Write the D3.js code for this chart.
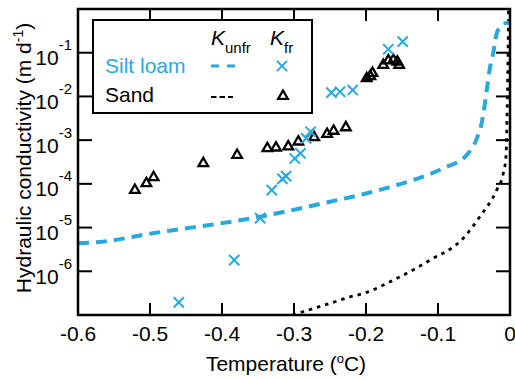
<!DOCTYPE html>
<html>
<head>
<meta charset="utf-8">
<script src="https://cdn.jsdelivr.net/npm/d3@7"></script>
<style>
body { margin: 0; background: #fff; }
svg { display: block; font-family: "Liberation Sans", Arial, sans-serif; }
</style>
</head>
<body>
<div id="chart"></div>
<script>
// frozen conductivity, silt loam (x markers)
var siltFrT = [-0.46, -0.383, -0.347, -0.331, -0.316, -0.311, -0.299, -0.291, -0.283, -0.277, -0.248, -0.236, -0.2185, -0.169, -0.149];
var siltFrK = [1.95e-7, 1.8e-6, 1.65e-5, 7.2e-5, 1.3e-4, 1.5e-4, 3.8e-4, 5.0e-4, 1.1e-3, 1.56e-3, 1.22e-2, 1.28e-2, 1.4e-2, 0.12, 0.179];

// frozen conductivity, sand (triangles)
var sandFrT = [-0.521, -0.505, -0.495, -0.426, -0.379, -0.337, -0.325, -0.308, -0.294, -0.272, -0.254, -0.245, -0.228, -0.199, -0.194, -0.191, -0.176, -0.169, -0.162, -0.1565, -0.154];
var sandFrK = [7.2e-5, 1.03e-4, 1.41e-4, 2.95e-4, 4.57e-4, 6.5e-4, 6.7e-4, 7.1e-4, 9.2e-4, 1.16e-3, 1.38e-3, 1.62e-3, 1.95e-3, 2.6e-2, 2.9e-2, 3.4e-2, 5.2e-2, 6.6e-2, 6.8e-2, 6.2e-2, 5.2e-2];

// unfrozen conductivity curves
var siltUnfrT = [-0.6, -0.57, -0.496, -0.347, -0.25, -0.204, -0.157, -0.111, -0.093, -0.06, -0.046, -0.039, -0.032, -0.028, -0.023, -0.019, -0.014, -0.005, 0];
var siltUnfrK = [4.4e-6, 4.7e-6, 7.4e-6, 1.77e-5, 3.9e-5, 5.8e-5, 9.4e-5, 1.68e-4, 2.27e-4, 4.6e-4, 1.1e-3, 2.6e-3, 1.5e-2, 4.4e-2, 0.105, 0.254, 0.39, 0.48, 0.49];

var sandUnfrT = [-0.302, -0.25, -0.222, -0.204, -0.157, -0.111, -0.065, -0.042, -0.0185, -0.0093, -0.0056, -0.0042, -0.0028, -0.002];
var sandUnfrK = [1e-7, 1.85e-7, 2.6e-7, 3.1e-7, 6.9e-7, 1.8e-6, 5.7e-6, 1.77e-5, 7.2e-5, 1.74e-4, 4.2e-4, 2.9e-3, 6.8e-2, 1.0];

var xTicks = [-0.6, -0.5, -0.4, -0.3, -0.2, -0.1, 0];
var xTickLabels = ["-0.6", "-0.5", "-0.4", "-0.3", "-0.2", "-0.1", "0"];
var yExps = [-1, -2, -3, -4, -5, -6];

var blue = "#29a8df";
var plotL = 78, plotR = 510, plotT = 9, plotB = 315;
var tickLen = 12;

var xScale = d3.scaleLinear().domain([-0.6, 0]).range([plotL, plotR]);
var yScale = d3.scaleLog().domain([1e-7, 1]).range([plotB, plotT]);

var svg = d3.select("div#chart")
  .append("svg")
  .attr("width", 515)
  .attr("height", 379);

svg.append("clipPath").attr("id", "plotclip")
  .append("rect")
  .attr("x", plotL).attr("y", plotT)
  .attr("width", plotR - plotL).attr("height", plotB - plotT);

var zip = (a, b) => a.map((v, i) => [v, b[i]]);

var line = d3.line()
  .x(d => xScale(d[0]))
  .y(d => yScale(d[1]))
  .curve(d3.curveMonotoneX);

var plot = svg.append("g").attr("clip-path", "url(#plotclip)");

// unfrozen curves
plot.append("path")
  .datum(zip(sandUnfrT, sandUnfrK))
  .attr("d", line)
  .attr("fill", "none")
  .attr("stroke", "#000")
  .attr("stroke-width", 2.8)
  .attr("stroke-dasharray", "3.5,5");

plot.append("path")
  .datum(zip(siltUnfrT, siltUnfrK))
  .attr("d", line)
  .attr("fill", "none")
  .attr("stroke", blue)
  .attr("stroke-width", 4)
  .attr("stroke-dasharray", "11,7");

// markers
var tri = d3.symbol().type(d3.symbolTriangle).size(40);
plot.selectAll(".tri")
  .data(zip(sandFrT, sandFrK))
  .enter()
  .append("path")
  .attr("class", "tri")
  .attr("d", tri)
  .attr("transform", d => "translate(" + xScale(d[0]) + "," + yScale(d[1]) + ")")
  .attr("fill", "none")
  .attr("stroke", "#000")
  .attr("stroke-width", 2.3);

var cross = d3.symbol().type(d3.symbolX).size(70);
plot.selectAll(".cross")
  .data(zip(siltFrT, siltFrK))
  .enter()
  .append("path")
  .attr("class", "cross")
  .attr("d", cross)
  .attr("transform", d => "translate(" + xScale(d[0]) + "," + yScale(d[1]) + ")")
  .attr("fill", "none")
  .attr("stroke", blue)
  .attr("stroke-width", 2);

// ticks on all four sides, pointing inward
var ticks = svg.append("g").attr("stroke", "#000").attr("stroke-width", 2);
xTicks.slice(1, -1).forEach(function(t) {
  ticks.append("line").attr("x1", xScale(t)).attr("x2", xScale(t)).attr("y1", plotB).attr("y2", plotB - tickLen);
  ticks.append("line").attr("x1", xScale(t)).attr("x2", xScale(t)).attr("y1", plotT).attr("y2", plotT + tickLen);
});
yExps.forEach(function(e) {
  var y = yScale(Math.pow(10, e));
  ticks.append("line").attr("x1", plotL).attr("x2", plotL + tickLen + 2).attr("y1", y).attr("y2", y);
  ticks.append("line").attr("x1", plotR).attr("x2", plotR - tickLen - 2).attr("y1", y).attr("y2", y);
});

// frame
svg.append("rect")
  .attr("x", plotL).attr("y", plotT)
  .attr("width", plotR - plotL).attr("height", plotB - plotT)
  .attr("fill", "none")
  .attr("stroke", "#000")
  .attr("stroke-width", 2.5);

// tick labels
svg.selectAll(".xlab")
  .data(xTicks)
  .enter()
  .append("text")
  .attr("class", "xlab")
  .attr("x", d => xScale(d))
  .attr("y", 341)
  .attr("text-anchor", "middle")
  .attr("font-size", 21)
  .text((d, i) => xTickLabels[i]);

yExps.forEach(function(e) {
  var t = svg.append("text")
    .attr("x", 72)
    .attr("y", yScale(Math.pow(10, e)) + 12.5)
    .attr("text-anchor", "end")
    .attr("font-size", 21);
  t.append("tspan").text("10");
  t.append("tspan").attr("font-size", 15).attr("dy", -15).text(String(e));
});

// axis titles
var xt = svg.append("text")
  .attr("x", 286).attr("y", 371)
  .attr("text-anchor", "middle")
  .attr("font-size", 21);
xt.append("tspan").text("Temperature (");
xt.append("tspan").attr("font-size", 13).attr("dy", -8).text("o");
xt.append("tspan").attr("dy", 8).text("C)");

var yt = svg.append("text")
  .attr("transform", "translate(31,158) rotate(-90)")
  .attr("text-anchor", "middle")
  .attr("font-size", 21);
yt.append("tspan").text("Hydraulic conductivity (m d");
yt.append("tspan").attr("font-size", 14).attr("dy", -8).text("-1");
yt.append("tspan").attr("dy", 8).text(")");

// legend
var lg = svg.append("g");
lg.append("rect")
  .attr("x", 93).attr("y", 20)
  .attr("width", 219).attr("height", 93)
  .attr("fill", "#fff")
  .attr("stroke", "#000")
  .attr("stroke-width", 2);

var h1 = lg.append("text").attr("x", 211).attr("y", 45).attr("font-size", 21);
h1.append("tspan").attr("font-style", "italic").text("K");
h1.append("tspan").attr("font-size", 15).attr("dy", 8).text("unfr");
var h2 = lg.append("text").attr("x", 270).attr("y", 45).attr("font-size", 21);
h2.append("tspan").attr("font-style", "italic").text("K");
h2.append("tspan").attr("font-size", 15).attr("dy", 8).text("fr");

lg.append("text").attr("x", 105).attr("y", 73).attr("font-size", 21).attr("fill", blue).text("Silt loam");
lg.append("text").attr("x", 105).attr("y", 102).attr("font-size", 21).attr("fill", "#000").text("Sand");

lg.append("line")
  .attr("x1", 211).attr("x2", 236).attr("y1", 66).attr("y2", 66)
  .attr("stroke", blue).attr("stroke-width", 3).attr("stroke-dasharray", "8,8");
lg.append("path")
  .attr("d", cross)
  .attr("transform", "translate(282,66)")
  .attr("fill", "none").attr("stroke", blue).attr("stroke-width", 2);

lg.append("line")
  .attr("x1", 211).attr("x2", 233).attr("y1", 97).attr("y2", 97)
  .attr("stroke", "#000").attr("stroke-width", 2).attr("stroke-dasharray", "5.5,3");
lg.append("path")
  .attr("d", tri)
  .attr("transform", "translate(283,96)")
  .attr("fill", "none").attr("stroke", "#000").attr("stroke-width", 2.3);
</script>
</body>
</html>
